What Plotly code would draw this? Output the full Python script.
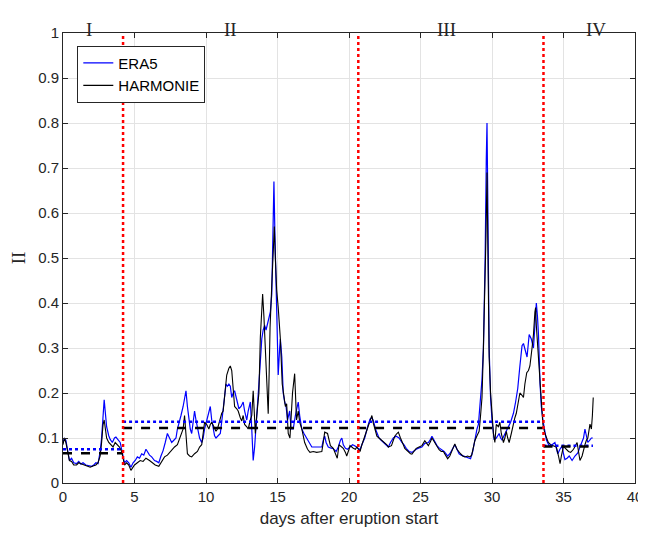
import plotly.graph_objects as go

# ---------------- data ----------------
era5_days = [0.0,0.1,0.2,0.3,0.45,0.6,0.75,0.95,1.1,1.25,1.4,1.6,1.8,2.0,2.15,2.3,2.45,2.6,2.7,2.8,2.88,2.95,3.05,3.2,3.3,3.45,3.6,3.7,3.85,4.0,4.1,4.2,4.3,4.45,4.6,4.75,4.9,5.05,5.2,5.35,5.5,5.65,5.8,5.9,6.05,6.2,6.4,6.55,6.7,6.85,7.0,7.15,7.3,7.45,7.6,7.75,7.9,8.0,8.1,8.25,8.4,8.5,8.6,8.7,8.8,8.9,9.0,9.1,9.2,9.3,9.4,9.55,9.7,9.8,9.9,10.05,10.2,10.3,10.4,10.5,10.6,10.7,10.85,11.0,11.15,11.3,11.4,11.5,11.6,11.7,11.8,11.9,12.0,12.15,12.3,12.45,12.6,12.7,12.85,12.95,13.1,13.2,13.3,13.4,13.5,13.6,13.7,13.8,13.9,14.0,14.1,14.2,14.35,14.5,14.6,14.68,14.75,14.82,14.9,15.0,15.05,15.15,15.2,15.3,15.4,15.5,15.6,15.7,15.75,15.85,15.95,16.1,16.25,16.4,16.45,16.55,16.7,16.85,17.04,17.2,17.4,17.7,17.9,18.1,18.2,18.3,18.4,18.55,18.7,18.9,19.1,19.25,19.4,19.5,19.6,19.75,19.9,20.07,20.25,20.4,20.6,20.77,20.9,21.1,21.3,21.47,21.6,21.7,21.85,22.1,22.25,22.4,22.6,22.75,22.9,23.1,23.3,23.5,23.7,23.85,24.0,24.2,24.4,24.55,24.7,24.9,25.1,25.3,25.55,25.7,25.8,25.95,26.15,26.3,26.5,26.65,26.8,26.9,27.05,27.2,27.4,27.55,27.7,27.85,28.0,28.2,28.35,28.5,28.65,28.8,28.95,29.05,29.2,29.3,29.4,29.45,29.52,29.6,29.65,29.7,29.75,29.8,29.9,30.0,30.15,30.3,30.5,30.6,30.7,30.85,31.0,31.15,31.3,31.4,31.5,31.65,31.8,31.95,32.1,32.2,32.3,32.45,32.6,32.75,32.9,33.0,33.1,33.18,33.25,33.36,33.45,33.56,33.7,33.8,34.0,34.2,34.4,34.5,34.6,34.75,34.9,35.0,35.1,35.25,35.4,35.5,35.6,35.8,36.0,36.15,36.3,36.4,36.5,36.6,36.7,36.85,36.95,37.05]
era5_vals = [0.09,0.10,0.095,0.075,0.05,0.055,0.045,0.043,0.048,0.042,0.045,0.04,0.038,0.037,0.04,0.045,0.043,0.07,0.1,0.16,0.185,0.16,0.125,0.105,0.097,0.09,0.1,0.102,0.095,0.09,0.075,0.06,0.045,0.05,0.045,0.035,0.045,0.05,0.058,0.055,0.065,0.062,0.075,0.07,0.062,0.058,0.05,0.048,0.045,0.06,0.072,0.09,0.11,0.1,0.09,0.095,0.1,0.12,0.135,0.15,0.17,0.19,0.205,0.17,0.14,0.12,0.11,0.135,0.16,0.14,0.12,0.1,0.09,0.1,0.12,0.14,0.16,0.17,0.14,0.12,0.105,0.1,0.105,0.11,0.15,0.2,0.22,0.215,0.22,0.215,0.19,0.2,0.205,0.185,0.165,0.17,0.18,0.16,0.14,0.16,0.18,0.12,0.05,0.08,0.12,0.17,0.22,0.27,0.32,0.34,0.35,0.34,0.36,0.38,0.42,0.55,0.67,0.55,0.42,0.3,0.24,0.3,0.32,0.28,0.2,0.18,0.17,0.14,0.15,0.16,0.12,0.12,0.15,0.175,0.18,0.15,0.12,0.11,0.1,0.09,0.08,0.08,0.08,0.08,0.095,0.104,0.09,0.08,0.078,0.076,0.07,0.08,0.095,0.1,0.085,0.077,0.075,0.08,0.085,0.083,0.078,0.074,0.085,0.1,0.125,0.142,0.145,0.139,0.12,0.1,0.095,0.09,0.085,0.08,0.09,0.1,0.104,0.1,0.09,0.085,0.077,0.07,0.068,0.072,0.075,0.078,0.08,0.088,0.09,0.097,0.104,0.095,0.083,0.078,0.074,0.07,0.064,0.06,0.065,0.075,0.085,0.075,0.065,0.062,0.06,0.058,0.056,0.054,0.07,0.1,0.12,0.13,0.18,0.23,0.3,0.36,0.5,0.72,0.80,0.65,0.45,0.3,0.19,0.14,0.096,0.1,0.11,0.1,0.096,0.105,0.115,0.125,0.135,0.145,0.155,0.18,0.21,0.26,0.305,0.31,0.3,0.28,0.33,0.32,0.3,0.36,0.4,0.37,0.33,0.22,0.17,0.14,0.11,0.096,0.082,0.085,0.09,0.075,0.065,0.075,0.082,0.065,0.052,0.055,0.06,0.055,0.05,0.06,0.067,0.08,0.09,0.1,0.12,0.105,0.09,0.096,0.1,0.1]

harm_days = [0.0,0.1,0.2,0.3,0.45,0.6,0.75,0.95,1.1,1.3,1.5,1.7,1.9,2.1,2.3,2.45,2.6,2.7,2.8,2.88,2.95,3.05,3.2,3.35,3.5,3.65,3.8,3.95,4.1,4.2,4.3,4.45,4.6,4.75,4.85,5.0,5.2,5.4,5.6,5.8,6.05,6.25,6.45,6.7,6.85,7.0,7.1,7.3,7.45,7.6,7.8,8.0,8.15,8.3,8.4,8.5,8.6,8.7,8.85,9.0,9.2,9.4,9.55,9.7,9.8,9.9,10.05,10.2,10.3,10.4,10.55,10.7,10.8,10.95,11.1,11.2,11.3,11.45,11.6,11.7,11.8,11.9,12.0,12.15,12.25,12.4,12.5,12.6,12.7,12.85,12.95,13.1,13.2,13.3,13.38,13.45,13.55,13.7,13.8,13.9,13.96,14.05,14.15,14.25,14.35,14.42,14.48,14.6,14.7,14.78,14.85,14.94,15.05,15.2,15.33,15.45,15.55,15.64,15.75,15.87,15.95,16.05,16.2,16.33,16.45,16.55,16.7,16.9,17.1,17.27,17.5,17.74,17.9,18.1,18.2,18.3,18.5,18.6,18.7,18.9,19.05,19.18,19.3,19.45,19.6,19.75,19.84,20.0,20.07,20.2,20.3,20.45,20.55,20.65,20.77,20.9,21.1,21.3,21.47,21.6,21.7,21.85,21.95,22.1,22.3,22.5,22.65,22.75,22.97,23.1,23.2,23.35,23.45,23.6,23.7,23.8,23.9,24.05,24.15,24.3,24.4,24.55,24.7,24.9,25.1,25.3,25.45,25.55,25.7,25.8,25.9,26.0,26.15,26.3,26.45,26.6,26.75,26.9,27.05,27.2,27.4,27.55,27.7,27.8,27.95,28.1,28.3,28.45,28.58,28.7,28.8,28.95,29.1,29.2,29.3,29.4,29.5,29.58,29.65,29.72,29.8,29.9,29.98,30.1,30.2,30.3,30.45,30.55,30.65,30.8,30.9,31.0,31.1,31.2,31.35,31.5,31.6,31.7,31.85,31.95,32.1,32.2,32.3,32.43,32.55,32.65,32.8,32.9,33.0,33.05,33.1,33.25,33.36,33.46,33.56,33.7,33.8,33.94,34.1,34.3,34.5,34.65,34.76,34.85,35.0,35.1,35.2,35.35,35.5,35.7,35.95,36.05,36.15,36.3,36.4,36.5,36.6,36.7,36.85,36.95,37.02,37.08]
harm_vals = [0.085,0.1,0.09,0.07,0.05,0.048,0.04,0.04,0.045,0.042,0.04,0.037,0.035,0.038,0.04,0.045,0.06,0.09,0.13,0.14,0.12,0.1,0.09,0.085,0.08,0.09,0.085,0.08,0.07,0.055,0.04,0.045,0.04,0.028,0.032,0.04,0.045,0.05,0.048,0.055,0.05,0.045,0.04,0.037,0.045,0.05,0.058,0.062,0.068,0.072,0.08,0.085,0.1,0.11,0.12,0.15,0.1,0.065,0.06,0.058,0.065,0.07,0.08,0.085,0.11,0.135,0.13,0.12,0.13,0.135,0.125,0.115,0.12,0.14,0.155,0.16,0.2,0.24,0.255,0.26,0.25,0.2,0.17,0.165,0.16,0.145,0.138,0.15,0.13,0.125,0.12,0.14,0.15,0.205,0.15,0.11,0.15,0.2,0.324,0.39,0.42,0.37,0.3,0.206,0.154,0.25,0.346,0.44,0.5,0.57,0.5,0.43,0.39,0.32,0.22,0.19,0.17,0.176,0.11,0.1,0.15,0.2,0.243,0.14,0.16,0.135,0.12,0.09,0.075,0.068,0.07,0.068,0.069,0.07,0.09,0.113,0.11,0.095,0.083,0.077,0.065,0.055,0.085,0.08,0.077,0.068,0.06,0.075,0.083,0.08,0.077,0.075,0.08,0.075,0.07,0.085,0.104,0.125,0.139,0.15,0.133,0.115,0.104,0.1,0.094,0.09,0.085,0.08,0.083,0.095,0.104,0.11,0.113,0.1,0.094,0.085,0.077,0.072,0.068,0.065,0.064,0.07,0.077,0.08,0.083,0.094,0.088,0.083,0.092,0.1,0.095,0.09,0.08,0.074,0.07,0.07,0.062,0.054,0.06,0.072,0.087,0.075,0.068,0.065,0.06,0.058,0.06,0.058,0.062,0.08,0.094,0.105,0.115,0.15,0.19,0.3,0.41,0.55,0.69,0.5,0.28,0.2,0.155,0.11,0.09,0.13,0.125,0.135,0.11,0.09,0.1,0.115,0.1,0.09,0.11,0.135,0.145,0.155,0.18,0.2,0.195,0.19,0.22,0.245,0.25,0.26,0.3,0.33,0.38,0.39,0.35,0.27,0.21,0.16,0.13,0.11,0.1,0.09,0.085,0.082,0.08,0.06,0.043,0.06,0.082,0.078,0.075,0.07,0.068,0.075,0.09,0.07,0.05,0.06,0.075,0.085,0.095,0.1,0.131,0.12,0.15,0.19]

# period boundaries (days) and period-mean values
period_edges = [0.0, 4.2, 33.6, 37.06]
era5_means = [0.075, 0.136, 0.083]
harm_means = [0.066, 0.122, 0.081]
phase_bounds = [4.2, 20.65, 33.6]
phase_labels = ["I", "II", "III", "IV"]
phase_label_x = [1.8, 11.7, 26.8, 37.3]

x_ticks = [0, 5, 10, 15, 20, 25, 30, 35, 40]
y_ticks = [0, 0.1, 0.2, 0.3, 0.4, 0.5, 0.6, 0.7, 0.8, 0.9, 1]

# ---------------- figure ----------------
fig = go.Figure()

fig.add_trace(go.Scatter(x=era5_days, y=era5_vals, mode="lines", name="ERA5",
                         line=dict(color="#0000ff", width=1.2)))
fig.add_trace(go.Scatter(x=harm_days, y=harm_vals, mode="lines", name="HARMONIE",
                         line=dict(color="#000000", width=1.1)))

for i in range(len(era5_means)):
    fig.add_trace(go.Scatter(x=[period_edges[i], period_edges[i + 1]], y=[era5_means[i]] * 2,
                             mode="lines", showlegend=False,
                             line=dict(color="#0000ff", width=2.5, dash="dot")))
    fig.add_trace(go.Scatter(x=[period_edges[i], period_edges[i + 1]], y=[harm_means[i]] * 2,
                             mode="lines", showlegend=False,
                             line=dict(color="#000000", width=2.5, dash="dash")))

for b in phase_bounds:
    fig.add_trace(go.Scatter(x=[b, b], y=[0, 1], mode="lines", showlegend=False,
                             line=dict(color="#ff0000", width=2.5, dash="dot")))

for lx, lt in zip(phase_label_x, phase_labels):
    fig.add_annotation(x=lx, y=1.0, xref="x", yref="paper", yshift=16, text=lt,
                       showarrow=False,
                       font=dict(family="Liberation Serif, Times New Roman, serif", size=19, color="#262626"))

axis_common = dict(showline=True, linecolor="#262626", linewidth=1, mirror="ticks",
                   ticks="inside", ticklen=5, tickcolor="#262626",
                   showgrid=True, gridcolor="#e3e3e3", gridwidth=1, zeroline=False,
                   tickfont=dict(family="Liberation Sans, Arial, sans-serif", size=15, color="#262626"))

fig.update_xaxes(range=[0, 40], tickvals=x_ticks, automargin=False,
                 title=dict(text="days after eruption start", standoff=8,
                            font=dict(family="Liberation Sans, Arial, sans-serif", size=17, color="#262626")),
                 **axis_common)
fig.update_yaxes(range=[0, 1], tickvals=y_ticks, ticktext=[str(v) for v in y_ticks], automargin=False,
                 title=dict(text="II", standoff=8,
                            font=dict(family="Liberation Serif, Times New Roman, serif", size=19, color="#262626")),
                 **axis_common)

# page body adds an 8px offset, so margins are shifted accordingly
fig.update_layout(
    width=638, height=532,
    margin=dict(l=55, r=11, t=25, b=57),
    plot_bgcolor="white", paper_bgcolor="white",
    legend=dict(x=0.025, y=0.972, xanchor="left", yanchor="top",
                bgcolor="white", bordercolor="#262626", borderwidth=1,
                entrywidth=140, entrywidthmode="pixels",
                font=dict(family="Liberation Sans, Arial, sans-serif", size=15, color="#000000"),
                tracegroupgap=0),
)

fig.write_html("out.html")
